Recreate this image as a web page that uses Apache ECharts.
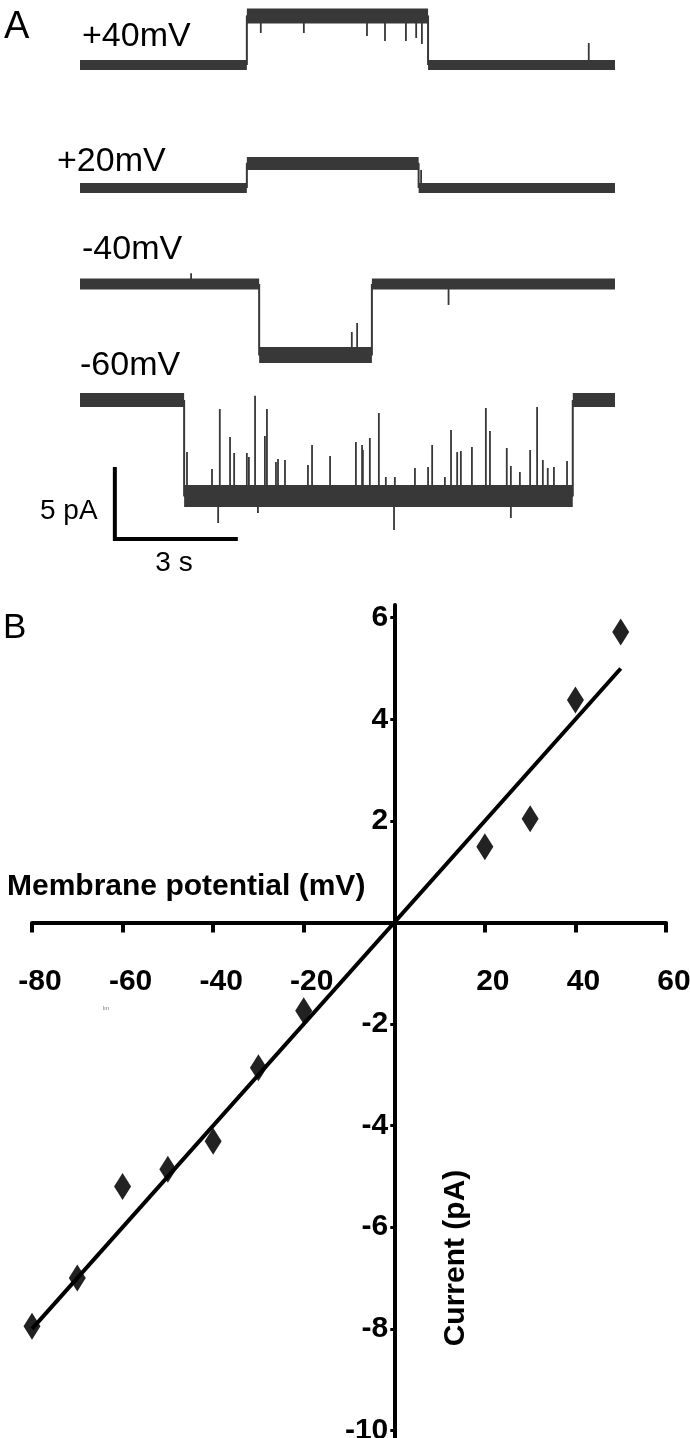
<!DOCTYPE html>
<html>
<head>
<meta charset="utf-8">
<script src="https://cdn.jsdelivr.net/npm/echarts@6/dist/echarts.min.js"></script>
<style>html,body{margin:0;padding:0;background:#fff}#c{width:690px;height:1438px}</style>
</head>
<body>
<div id="c"></div>
<script>
// ---------- Panel A: single-channel current traces ----------
const TRACE_LABELS = ['+40mV', '+20mV', '-40mV', '-60mV'];
const TRACE_DURATION = 13.05;                    // s
const OPEN_TIMES  = [4.07, 4.07, 4.37, 2.54];     // s, channel opens
const CLOSE_TIMES = [8.49, 8.26, 7.12, 12.02];    // s, channel closes
const OPEN_LEVELS = [3.40, 1.70, -4.93, -6.67];   // pA (closed level = 0)

// brief events (time s, current pA)
const SPIKES_P40_T = [4.41, 5.46, 7.00, 7.44, 7.95, 8.20, 8.34, 12.41];
const SPIKES_P40_I = [2.22, 2.22, 2.01, 1.67, 1.67, 1.88, 1.46, 1.53];
const SPIKES_P20_T = [8.32];
const SPIKES_P20_I = [1.25];
const SPIKES_M40_T = [6.63, 6.76, 8.99, 2.71];
const SPIKES_M40_I = [-3.33, -2.71, -1.46, 0.75];
const SPIKES_M60_T = [2.61, 3.22, 3.41, 3.66, 3.76, 4.07, 4.12, 4.27, 4.51, 4.56, 4.78, 4.83, 5.00, 5.56, 5.66, 6.10, 6.73, 6.88, 6.90, 7.07, 7.29, 7.46, 7.68, 8.17, 8.49, 8.59, 8.90, 9.05, 9.20, 9.29, 9.56, 9.90, 10.00, 10.41, 10.51, 10.73, 10.98, 11.15, 11.29, 11.41, 11.56, 11.88, 3.37, 4.34, 7.66, 10.51];
const SPIKES_M60_I = [-3.61, -4.79, -0.63, -2.57, -3.68, -3.68, -3.96, 0.30, -2.50, -0.63, -4.31, -4.10, -4.17, -4.51, -3.13, -3.89, -2.92, -3.13, -3.47, -2.64, -0.90, -5.35, -5.35, -4.72, -4.65, -3.13, -5.35, -2.08, -3.61, -3.54, -3.26, -0.56, -2.15, -3.33, -4.58, -5.00, -3.47, -0.49, -4.17, -4.72, -4.65, -4.24, -8.54, -7.85, -9.03, -8.19];
const SCALE_BAR_PA = 5;   // pA
const SCALE_BAR_S = 3;    // s

// ---------- Panel B: I-V relation ----------
const IV_VOLTAGE = [-80, -70, -60, -50, -40, -30, -20, 20, 30, 40, 50];     // mV
const IV_CURRENT = [-7.95, -7.0, -5.2, -4.86, -4.31, -2.86, -1.74, 1.49, 2.04, 4.38, 5.72]; // pA
const FIT_VOLTAGE = [-80, 50];
const FIT_CURRENT = [-8.0, 5.0];
const X_TICKS  = [-80, -60, -40, -20, 0, 20, 40, 60];
const X_LABELS = [-80, -60, -40, -20, 20, 40, 60];
const Y_TICKS  = [-10, -8, -6, -4, -2, 0, 2, 4, 6];
const Y_LABELS = [-10, -8, -6, -4, -2, 2, 4, 6];

// ---------- layout ----------
const PX_PER_PA = 14.4;
const TRACE_BASE_Y = [65, 188, 284, 400];
const TRACE_RANGE = [[-1, 4.5], [-1, 3], [-7, 1], [-10.5, 1]];
const CLOSED_W = [10, 10, 11, 14];
const OPEN_W = [15, 13, 16, 22];
const SPIKES = [
  [SPIKES_P40_T, SPIKES_P40_I], [SPIKES_P20_T, SPIKES_P20_I],
  [SPIKES_M40_T, SPIKES_M40_I], [SPIKES_M60_T, SPIKES_M60_I]
];
const TRACE_COLOR = '#383838';
const FONT = 'Liberation Sans, Arial, sans-serif';

const grids = [], xAxes = [], yAxes = [], series = [];
TRACE_LABELS.forEach((lab, i) => {
  const [mn, mx] = TRACE_RANGE[i];
  grids.push({ left: 80, right: 75, top: TRACE_BASE_Y[i] - mx * PX_PER_PA, height: (mx - mn) * PX_PER_PA, outerBoundsMode: 'none', containLabel: false });
  xAxes.push({ type: 'value', gridIndex: i, min: 0, max: TRACE_DURATION, show: false });
  yAxes.push({ type: 'value', gridIndex: i, min: mn, max: mx, show: false });
  const on = OPEN_TIMES[i], off = CLOSE_TIMES[i], L = OPEN_LEVELS[i];
  const base = { type: 'line', xAxisIndex: i, yAxisIndex: i, showSymbol: false, symbol: 'none', silent: true, animation: false, clip: false };
  const [st, si] = SPIKES[i];
  const spikeData = [];
  st.forEach((t, k) => {
    const lvl = (t > on && t < off) ? L : 0;
    spikeData.push([t, lvl], [t, si[k]], [t, lvl]);
    spikeData.push([t, '-']);
  });
  series.push(Object.assign({}, base, { data: spikeData, connectNulls: false, lineStyle: { color: TRACE_COLOR, width: 1.8 } }));
  series.push(Object.assign({}, base, { data: [[on, 0], [on, L], [off, L], [off, 0]], lineStyle: { color: TRACE_COLOR, width: 2 } }));
  series.push(Object.assign({}, base, { data: [[0, 0], [on, 0]], lineStyle: { color: TRACE_COLOR, width: CLOSED_W[i] } }));
  series.push(Object.assign({}, base, { data: [[off, 0], [TRACE_DURATION, 0]], lineStyle: { color: TRACE_COLOR, width: CLOSED_W[i] } }));
  series.push(Object.assign({}, base, { data: [[on, L], [off, L]], lineStyle: { color: TRACE_COLOR, width: OPEN_W[i] } }));
});
const sbT = 0.85, sbI = -9.65;
series.push({ type: 'line', xAxisIndex: 3, yAxisIndex: 3, symbol: 'none', silent: true, animation: false, clip: false,
  data: [[sbT, sbI + SCALE_BAR_PA], [sbT, sbI], [sbT + SCALE_BAR_S, sbI]],
  lineStyle: { color: '#000', width: 4, cap: 'butt', join: 'miter' } });

// Panel B grid (axes crossing at the origin)
const G = 4;
const B_LEFT = 32, B_RIGHT = 24, B_TOP = 605, B_H = 833, B_W = 690 - B_LEFT - B_RIGHT;
const X_MIN = -80, X_MAX = 60, Y_MIN = -10.15, Y_MAX = 6.25;
const zeroFromBottom = (0 - Y_MIN) / (Y_MAX - Y_MIN) * B_H;
const zeroFromLeft = (0 - X_MIN) / (X_MAX - X_MIN) * B_W;
grids.push({ left: B_LEFT, top: B_TOP, width: B_W, height: B_H, outerBoundsMode: 'none', containLabel: false });
xAxes.push({
  type: 'value', gridIndex: G, min: X_MIN, max: X_MAX, position: 'bottom', offset: -zeroFromBottom,
  axisLine: { onZero: false, lineStyle: { color: '#000', width: 4 } },
  axisTick: { show: true, customValues: X_TICKS, length: 10, lineStyle: { color: '#000', width: 4 } },
  axisLabel: { customValues: X_LABELS, color: '#000', fontSize: 30, fontWeight: 'bold', fontFamily: FONT, margin: 44, padding: [0, 0, 0, 16] },
  splitLine: { show: false }
});
yAxes.push({
  type: 'value', gridIndex: G, min: Y_MIN, max: Y_MAX, position: 'left', offset: -zeroFromLeft,
  axisLine: { onZero: false, lineStyle: { color: '#000', width: 4 } },
  axisTick: { show: true, customValues: Y_TICKS, length: 4, lineStyle: { color: '#000', width: 3 } },
  axisLabel: { customValues: Y_LABELS, color: '#000', fontSize: 30, fontWeight: 'bold', fontFamily: FONT, margin: 6 },
  splitLine: { show: false }
});
series.push({ type: 'line', xAxisIndex: G, yAxisIndex: G, symbol: 'none', silent: true, animation: false,
  data: FIT_VOLTAGE.map((v, k) => [v, FIT_CURRENT[k]]), lineStyle: { color: '#000', width: 4 } });
series.push({ type: 'scatter', xAxisIndex: G, yAxisIndex: G, symbol: 'diamond', symbolSize: [17, 27], silent: true, animation: false,
  data: IV_VOLTAGE.map((v, k) => [v, IV_CURRENT[k]]), itemStyle: { color: '#222', opacity: 1 } });

const txt = (x, y, s, size, opts) => Object.assign({ type: 'text', x: x, y: y, silent: true,
  style: Object.assign({ text: s, fill: '#000', font: size + 'px ' + FONT, textVerticalAlign: 'middle' }, opts || {}) });

const graphic = [
  txt(4, 28, 'A', 38),
  txt(82, 37, TRACE_LABELS[0], 34),
  txt(57, 162, TRACE_LABELS[1], 34),
  txt(82, 250, TRACE_LABELS[2], 34),
  txt(80, 366, TRACE_LABELS[3], 34),
  txt(40, 511, SCALE_BAR_PA + ' pA', 28),
  txt(174, 563, SCALE_BAR_S + ' s', 28, { textAlign: 'center' }),
  txt(3, 628, 'B', 35),
  txt(7, 887, 'Membrane potential (mV)', 30, { font: 'bold 30px ' + FONT }),
  { type: 'text', x: 456, y: 1258, rotation: Math.PI / 2, silent: true,
    style: { text: 'Current (pA)', fill: '#000', font: 'bold 30px ' + FONT, textAlign: 'center', textVerticalAlign: 'middle' } },
  txt(103, 1008, 'lm', 6, { fill: '#777' })
];

const chart = echarts.init(document.getElementById('c'), null, { renderer: 'canvas' });
chart.setOption({
  animation: false,
  backgroundColor: '#fff',
  grid: grids, xAxis: xAxes, yAxis: yAxes, series: series, graphic: graphic
});
</script>
</body>
</html>
